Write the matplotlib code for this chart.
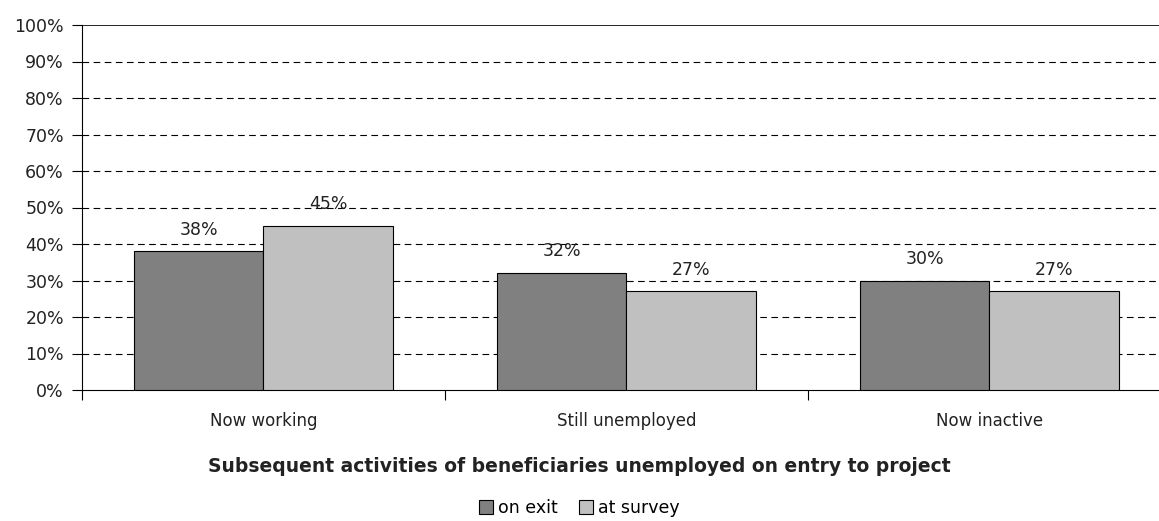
import numpy as np
import matplotlib.pyplot as plt
from matplotlib.patches import Patch

categories = ['Now working', 'Still unemployed', 'Now inactive']
on_exit = [38, 32, 30]
at_survey = [45, 27, 27]
series_names = ['on exit', 'at survey']
yticks = list(range(0, 101, 10))

plt.rcParams['font.family'] = ['DejaVu Sans']

fig = plt.figure(figsize=(11.59, 5.21), dpi=100)
ax = fig.add_axes([82 / 1159, 1 - 390 / 521, 1089 / 1159, 365 / 521])

x = np.arange(len(categories))
w = 0.358
b1 = ax.bar(x - w / 2, on_exit, w, color='#808080', edgecolor='black', linewidth=0.8, zorder=3)
b2 = ax.bar(x + w / 2, at_survey, w, color='#c0c0c0', edgecolor='black', linewidth=0.8, zorder=3)

# value labels above each bar
for bars, vals in [(b1, on_exit), (b2, at_survey)]:
    for bar, v in zip(bars, vals):
        ax.text(bar.get_x() + bar.get_width() / 2, v + 4.6, f'{v}%',
                ha='center', va='baseline', fontsize=12.5, color='#222222')

ax.set_xlim(-0.5, 2.5)
ax.set_ylim(0, 100)
ax.set_yticks(yticks)
ax.set_yticklabels([f'{t}%' for t in yticks], fontsize=12.5, color='#222222')
for t in yticks[1:-1]:
    ax.axhline(t, color='black', linestyle=(0, (6, 4)), linewidth=0.8, zorder=1)
ax.axhline(100, color='black', linewidth=1.2, zorder=1)

ax.set_xticks([-0.5, 0.5, 1.5, 2.5])
ax.set_xticklabels([])
ax.tick_params(axis='x', length=7, direction='out')
ax.tick_params(axis='y', length=7, direction='out', pad=6)
for i, c in enumerate(categories):
    ax.text(i, -8.5, c, ha='center', va='center', fontsize=12, color='#222222')

ax.spines['top'].set_visible(False)
ax.spines['right'].set_visible(False)

fig.text(0.5, 1 - 467 / 521,
         'Subsequent activities of beneficiaries unemployed on entry to project',
         ha='center', va='center', fontsize=13.5, fontweight='bold', color='#222222')

handles = [Patch(facecolor='#808080', edgecolor='black', linewidth=0.8),
           Patch(facecolor='#c0c0c0', edgecolor='black', linewidth=0.8)]
fig.legend(handles, series_names, loc='center', bbox_to_anchor=(0.5, 1 - 508 / 521),
           ncol=2, frameon=False, fontsize=12.5, handlelength=0.8, handleheight=0.8,
           handletextpad=0.3, columnspacing=1.2)

fig.savefig('out.png', dpi=100)
